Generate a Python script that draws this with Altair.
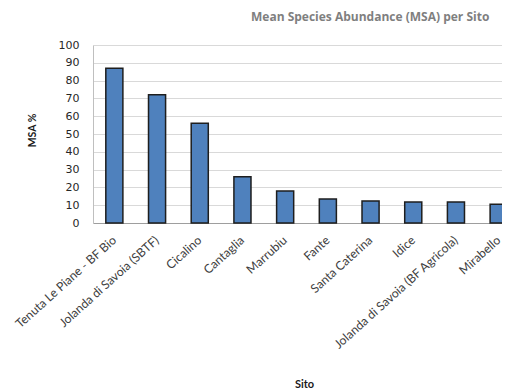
import altair as alt
import pandas as pd

sites = [
    "Tenuta Le Piane - BF Bio",
    "Jolanda di Savoia (SBTF)",
    "Cicalino",
    "Cantaglia",
    "Marrubiu",
    "Fante",
    "Santa Caterina",
    "Idice",
    "Jolanda di Savoia (BF Agricola)",
    "Mirabello",
]
msa = [87, 72, 56, 26, 18, 13.5, 12.4, 11.8, 11.8, 10.5]
y_ticks = [0, 10, 20, 30, 40, 50, 60, 70, 80, 90, 100]

df = pd.DataFrame({"Sito": sites, "MSA": msa})

chart = alt.Chart(df).mark_bar(
    color="#4F81BD", stroke="#1e1e1e", strokeWidth=1.5
).encode(
    x=alt.X(
        "Sito:N",
        sort=None,
        scale=alt.Scale(paddingInner=0.6, paddingOuter=0.3, range=[0, 427]),
        axis=alt.Axis(
            title="Sito",
            titleFont="Lato",
            titleFontSize=11,
            titleFontWeight="bold",
            titleColor="#1a1a1a",
            titleX=211,
            titleY=161,
            titleBaseline="middle",
            titleAlign="center",
            labelAngle=-42,
            labelAlign="right",
            labelBaseline="middle",
            labelFont="Lato",
            labelFontSize=12.2,
            labelColor="#404040",
            labelPadding=15,
            labelLimit=300,
            ticks=False,
            domainColor="#9e9e9e",
            domainWidth=1,
        ),
    ),
    y=alt.Y(
        "MSA:Q",
        scale=alt.Scale(domain=[0, 100], nice=False),
        axis=alt.Axis(
            values=y_ticks,
            title="MSA %",
            titleFont="Lato",
            titleFontSize=10.5,
            titleFontWeight="bold",
            titleColor="#1a1a1a",
            titleX=-61,
            titleY=85,
            titleBaseline="middle",
            titleAlign="center",
            titleAngle=-90,
            labelFont="DejaVu Sans",
            labelFontSize=11,
            labelColor="#262626",
            labelPadding=14,
            ticks=False,
            domainColor="#bfbfbf",
            gridColor="#d9d9d9",
            grid=True,
        ),
    ),
).properties(
    width=409,
    height=178,
    title=alt.TitleParams(
        "Mean Species Abundance (MSA) per Sito",
        anchor="start",
        frame="group",
        dx=158,
        offset=15,
        font="Open Sans",
        fontSize=12,
        fontWeight="bold",
        color="#7f7f7f",
    ),
    autosize=alt.AutoSizeParams(type="none"),
    padding={"left": 85, "top": 37, "right": 0, "bottom": 167},
).configure_view(stroke=None)

chart.save("out.html", embed_options={"renderer": "svg", "actions": False})
